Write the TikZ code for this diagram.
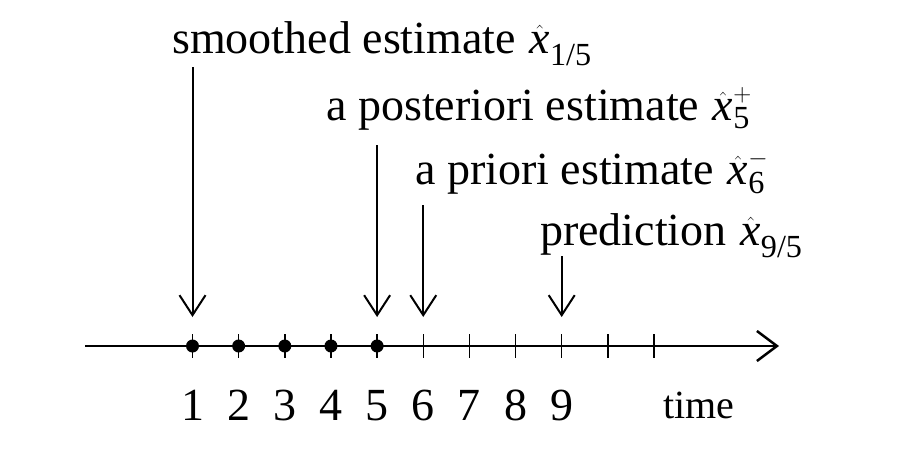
\documentclass[tikz,border=0pt]{standalone}
\usepackage{amsmath}
\usepackage{fontspec}
\setmainfont{Liberation Serif}
\usetikzlibrary{arrows.meta}
\newcommand{\xhat}{\hat{\textit{x}}}

\begin{document}
\begin{tikzpicture}[x=1pt, y=-1pt, font=\fontsize{46}{54}\selectfont,
    pointer/.style={line width=2pt, -{Straight Barb[length=20pt, width=26pt]}, shorten >=29pt},
    estlabel/.style={anchor=base west, inner sep=0pt}]
    \useasboundingbox (0,0) rectangle (899,453);
    % Asse dei tempi
    \pgfmathsetmacro{\xstart}{192.5}
    \pgfmathsetmacro{\xstep}{46.15}
    \pgfmathsetmacro{\yaxis}{346}
    \coordinate (AxisStart) at (85,\yaxis);
    \coordinate (AxisEnd) at (779,\yaxis);
    \draw[line width=2.5pt, -{Straight Barb[length=20pt, width=30pt]}] (AxisStart) -- (AxisEnd);
    % Tacche
    \foreach \k in {1,...,11}{
        \coordinate (T\k) at ({\xstart+(\k-1)*\xstep},\yaxis);
        \draw[line width=1.5pt] (T\k) ++(0,-12) -- ++(0,24);
    }
    % Campioni
    \foreach \k in {1,...,5}{
        \fill (T\k) circle (6.5);
    }
    % Numeri
    \foreach \k in {1,...,9}{
        \node[anchor=base] (N\k) at ({\xstart+(\k-1)*\xstep},420) {\k};
    }
    \node[anchor=base west, font=\fontsize{40}{48}\selectfont] (Time) at (660,418) {time};

    % Stime
    \node[estlabel] (Smoothed) at (172,53) {smoothed estimate\hspace{0.3em}$\xhat_{\text{1/5}}$};
    \node[estlabel] (Posterior) at (326,120) {a posteriori estimate\hspace{0.3em}$\xhat_{\text{5}}^{+}$};
    \node[estlabel] (Prior) at (415,184) {a priori estimate\hspace{0.3em}$\xhat_{\text{6}}^{-}$};
    \node[estlabel] (Prediction) at (540,245) {prediction\hspace{0.3em}$\xhat_{\text{9/5}}$};
    % Frecce
    \coordinate (StartOne) at ({\xstart},67);
    \coordinate (StartFive) at ({\xstart+4*\xstep},145);
    \coordinate (StartSix) at ({\xstart+5*\xstep},205);
    \coordinate (StartNine) at ({\xstart+8*\xstep},256);
    \draw[pointer] (StartOne) -- (T1);
    \draw[pointer] (StartFive) -- (T5);
    \draw[pointer] (StartSix) -- (T6);
    \draw[pointer] (StartNine) -- (T9);
\end{tikzpicture}
\end{document}
